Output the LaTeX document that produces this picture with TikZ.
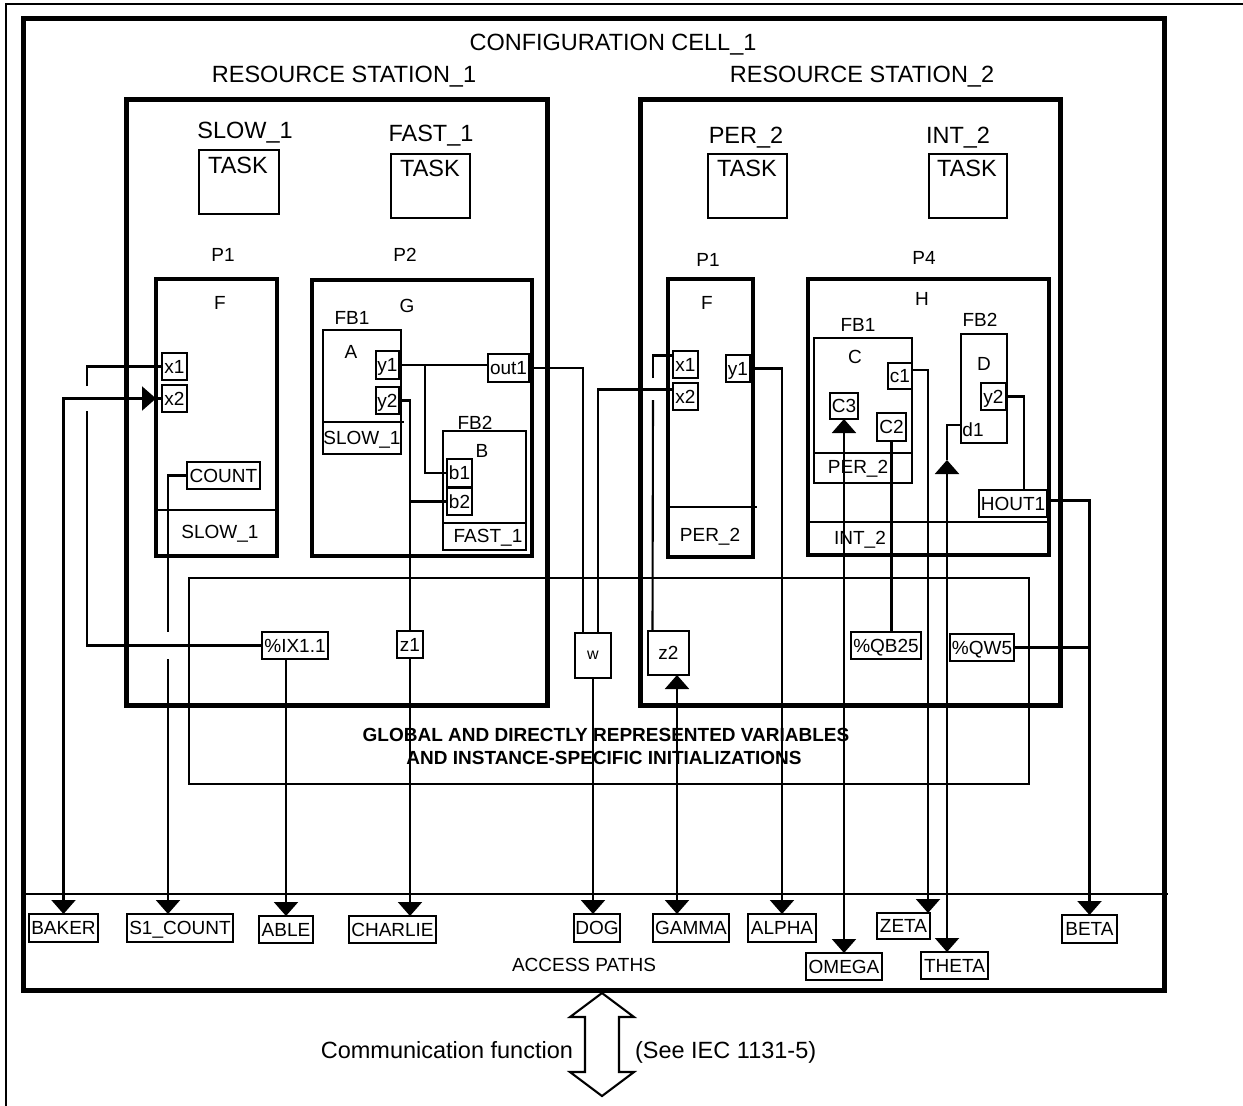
\documentclass[tikz,border=0pt]{standalone}
\usepackage{fontspec}
\setmainfont{Liberation Sans}
\usetikzlibrary{arrows.meta}
\newcommand\BX[7][]{\node[#1,minimum width={(#5)-(#3)},minimum height={(#6)-(#4)}] (#2) at ({((#3)+(#5))/2},{((#4)+(#6))/2}) {#7};}
\begin{document}
\begin{tikzpicture}[x=1pt,y=-1pt,line width=2.1pt,
  >={Triangle[width=24pt,length=14pt]},
  big/.style={font=\fontsize{23.5}{26}\selectfont,inner sep=0pt,text height=16.8pt,text depth=0pt},
  med/.style={font=\fontsize{19}{22}\selectfont,inner sep=0pt,text height=13.6pt,text depth=0pt},
  bld/.style={font=\fontsize{19}{22}\selectfont\bfseries,inner sep=0pt,text height=13.6pt,text depth=0pt},
  bx/.style={draw,line width=2.1pt,inner sep=0pt,outer sep=0pt,med},
  tk/.style={draw,line width=4.5pt,inner sep=0pt,outer sep=0pt},
  tkk/.style={draw,line width=5pt,inner sep=0pt,outer sep=0pt}]
\useasboundingbox (0,0) rectangle (1243,1106);
% outer frame
\draw (6,1106) -- (6,4) -- (1243,4);
% main boxes
\BX[tkk]{cfg}{23}{18}{1164}{990}{}
\BX[tkk]{st1}{126}{99}{547}{705}{}
\BX[tkk]{st2}{640}{99}{1060}{705}{}
\BX[tk]{pF1}{156}{279}{277}{556}{}
\BX[tk]{pG}{312}{280}{532}{556}{}
\BX[tk]{pF2}{668}{279}{753}{557}{}
\BX[tk]{pH}{808}{279}{1049}{555}{}
\BX[bx]{glob}{189}{578}{1029}{784}{}
% titles
\node[big] (tCfg) at (613,42) {CONFIGURATION CELL\_1};
\node[big] (tRS1) at (344,74) {RESOURCE STATION\_1};
\node[big] (tRS2) at (862,74) {RESOURCE STATION\_2};
% tasks
\node[big] (tSlow) at (245,130) {SLOW\_1};
\node[big] (tFast) at (431,133) {FAST\_1};
\node[big] (tPer) at (746,135) {PER\_2};
\node[big] (tInt) at (958,135) {INT\_2};
\BX[bx]{taskS}{199}{150}{279}{214}{}
\BX[bx]{taskF}{391}{154}{470}{218}{}
\BX[bx]{taskP}{708}{154}{787}{218}{}
\BX[bx]{taskI}{929}{154}{1007}{218}{}
\node[big] (kS) at (238,165) {TASK};
\node[big] (kF) at (430,168) {TASK};
\node[big] (kP) at (747,168) {TASK};
\node[big] (kI) at (967,168) {TASK};
% program labels
\node[med] (lP1a) at (223,255) {P1};
\node[med] (lP2) at (405,255) {P2};
\node[med] (lP1b) at (708,260) {P1};
\node[med] (lP4) at (924,258) {P4};
\node[med] (lF1) at (220,303) {F};
\node[med] (lG) at (407,306) {G};
\node[med] (lF2) at (707,303) {F};
\node[med] (lH) at (922,299) {H};
% program F (station 1)
\draw (156,510) -- (277,510);
\node[med] (lS1a) at (220,532) {SLOW\_1};
\BX[bx]{x1a}{162}{353}{187}{380}{x1}
\BX[bx]{x2a}{162}{385}{187}{412}{x2}
\BX[bx]{count}{187}{462}{260}{489}{COUNT}
% program G
\node[med] (lFB1a) at (352,318) {FB1};
\BX[bx]{fbA}{323}{330}{401}{454}{}
\draw (323,422) -- (404,422);
\node[med] (lA) at (351,352) {A};
\node[med] (lS1b) at (362,438) {SLOW\_1};
\BX[bx]{y1a}{376}{351}{399}{379}{y1}
\BX[bx]{y2a}{376}{387}{399}{414}{y2}
\BX[bx]{out1}{488}{354}{529}{382}{out1}
\node[med] (lFB2a) at (475,423) {FB2};
\BX[bx]{fbB}{443}{431}{526}{550}{}
\draw (443,523) -- (526,523);
\node[med] (lB) at (482,451) {B};
\node[med] (lF1b) at (488,536) {FAST\_1};
\BX[bx]{b1}{447}{459}{472}{487}{b1}
\BX[bx]{b2}{447}{488}{472}{515}{b2}
% program F (station 2)
\draw (668,507) -- (757,507);
\node[med] (lPer2a) at (710,535) {PER\_2};
\BX[bx]{x1b}{673}{351}{698}{378}{x1}
\BX[bx]{x2b}{673}{383}{698}{410}{x2}
\BX[bx]{y1b}{726}{355}{750}{382}{y1}
% program H
\node[med] (lFB1b) at (858,325) {FB1};
\BX[bx]{fbC}{814}{338}{912}{483}{}
\draw (814,453) -- (913,453);
\node[med] (lC) at (855,357) {C};
\node[med] (lPer2b) at (858,467) {PER\_2};
\BX[bx]{c1}{888}{363}{912}{389}{c1}
\BX[bx]{c3}{830}{393}{858}{419}{C3}
\BX[bx]{c2}{877}{413}{906}{441}{C2}
\node[med] (lFB2b) at (980,320) {FB2};
\BX[bx]{fbD}{961}{334}{1007}{443}{}
\node[med] (lD) at (984,364) {D};
\node[med] (ld1) at (973,430) {d1};
\BX[bx]{y2d}{981}{383}{1006}{410}{y2}
\BX[bx]{hout}{979}{490}{1047}{517}{HOUT1}
\draw (808,522) -- (1047,522);
\node[med] (lInt2) at (860,538) {INT\_2};
% global variables
\BX[bx]{ix}{262}{632}{328}{659}{\%IX1.1}
\BX[bx]{z1}{397}{631}{423}{658}{z1}
\BX[bx,font=\fontsize{16}{18}\selectfont,text height=8pt]{w}{575}{633}{611}{678}{w}
\BX[bx]{z2}{648}{631}{689}{675}{z2}
\BX[bx]{qb}{851}{632}{921}{659}{\%QB25}
\BX[bx]{qw}{950}{634}{1014}{661}{\%QW5}
\node[bld] (gl1) at (606,735) {GLOBAL AND DIRECTLY REPRESENTED VARIABLES};
\node[bld] (gl2) at (604,758) {AND INSTANCE-SPECIFIC INITIALIZATIONS};
% access paths
\draw (23,894) -- (1168,894);
\BX[bx]{baker}{29}{914}{98}{942}{BAKER}
\BX[bx]{s1count}{127}{914}{233}{942}{S1\_COUNT}
\BX[bx]{able}{259}{916}{313}{943}{ABLE}
\BX[bx]{charlie}{349}{916}{436}{943}{CHARLIE}
\BX[bx]{dog}{574}{914}{620}{942}{DOG}
\BX[bx]{gamma}{653}{914}{729}{942}{GAMMA}
\BX[bx]{alpha}{748}{914}{816}{942}{ALPHA}
\BX[bx]{omega}{806}{953}{882}{980}{OMEGA}
\BX[bx]{zeta}{877}{913}{930}{939}{ZETA}
\BX[bx]{theta}{921}{952}{988}{979}{THETA}
\BX[bx]{beta}{1062}{915}{1117}{943}{BETA}
\node[med] (lAcc) at (584,965) {ACCESS PATHS};
% jump coordinates
\coordinate (jx1lo) at (87,411);
\coordinate (jx1hi) at (87,386);
\coordinate (jcnthi) at (168,632);
\coordinate (jcntlo) at (168,659);
\coordinate (jz2lo) at (653,400);
\coordinate (jz2hi) at (653,378);
\coordinate (tB) at (947,460);
% connectors station 1
\draw (ix.west) -| (jx1lo);
\draw (jx1hi) |- (x1a.west);
\draw[<->] (baker.north) |- (x2a.west -| pF1.west);
\draw (x2a.west -| pF1.west) -- (x2a.west);
\draw (count.west) -| (jcnthi);
\draw[->] (jcntlo) -- ([xshift=-12pt]s1count.north);
\draw[->] (ix.south -| able.north) -- (able.north);
\draw (y1a.east) -- (y1a.east -| out1.west);
\draw (b1.west) -| ([xshift=26pt]y1a.east);
\draw (y2a.east) -| (z1.north);
\draw (b2.west) -- (b2.west -| z1.north);
\draw[->] (z1.south) -- (z1.south |- charlie.north);
\draw (out1.east) -| ([xshift=-10pt]w.north);
\draw ([yshift=7pt]x2b.west) -| ([xshift=5pt]w.north);
\draw[->] (w.south) -- (w.south |- dog.north);
% connectors station 2
\draw ([xshift=-16pt]z2.north) -- (jz2lo);
\draw (jz2hi) |- ([yshift=9pt]x1b.west);
\draw[<->] ([xshift=-14pt]gamma.north) -- ([xshift=-14pt]gamma.north |- z2.south);
\draw[->] (y1b.east) -| (alpha.north);
\draw[<->] (omega.north) -- (omega.north |- c3.south);
\draw (c2.south) -- (c2.south |- qb.north);
\draw[->] ([yshift=6pt]c1.east) -| ([xshift=-2pt]zeta.north east);
\draw[<->] ([xshift=-7.5pt]theta.north) -- (tB);
\draw ([yshift=-36.5pt]fbD.west) -| (tB);
\draw (y2d.east) -| ([xshift=11pt]hout.north);
\draw[->] ([yshift=3pt]hout.east) -| (beta.north);
\draw (qw.east) -- (qw.east -| beta.north);
% communication
\draw (602,993) -- (634,1017) -- (619,1017) -- (619,1072) -- (634,1072) -- (602,1096)
  -- (570,1072) -- (585,1072) -- (585,1017) -- (570,1017) -- cycle;
\node[big,anchor=east] (lComm) at (574,1050) {Communication function};
\node[big,anchor=west] (lSee) at (634,1050) {(See IEC 1131-5)};
\end{tikzpicture}
\end{document}
